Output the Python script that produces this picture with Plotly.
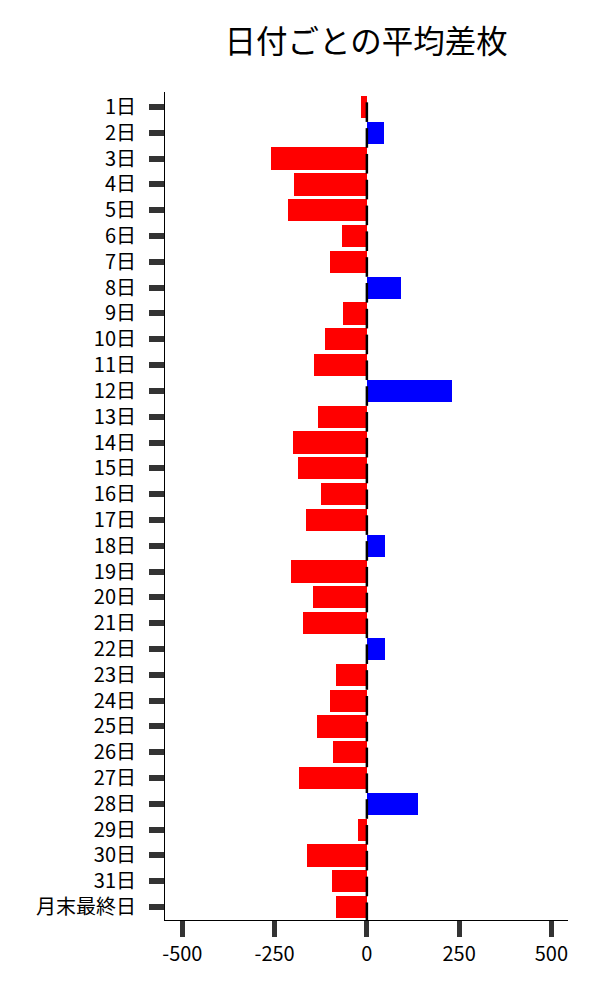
import plotly.graph_objects as go

categories = [f"{i}日" for i in range(1, 32)] + ["月末最終日"]
values = [-16, 46, -260, -198, -214, -68, -100, 92, -65, -114, -144, 230,
          -133, -200, -187, -125, -165, 49, -206, -146, -173, 49, -84, -100,
          -135, -92, -184, 138, -24, -163, -95, -84]

colors = ["#0000ff" if v > 0 else "#ff0000" for v in values]
idx = list(range(len(categories)))

fig = go.Figure()
fig.add_trace(go.Bar(x=values, y=idx, orientation="h", marker_color=colors,
                     marker_line_width=0, width=0.86))
fig.add_trace(go.Scatter(x=[0] * len(idx), y=[i + 0.2 for i in idx], mode="markers",
                         marker=dict(symbol="line-ns", size=14,
                                     line=dict(color="black", width=2.5)),
                         hoverinfo="skip"))

fig.update_layout(
    width=600, height=1000,
    margin=dict(l=157, r=40, t=84, b=88),
    plot_bgcolor="white", paper_bgcolor="white",
    showlegend=False,
    font=dict(family="Noto Sans CJK JP", color="black", size=20),
    title=dict(text="日付ごとの平均差枚", x=0.597, xanchor="center", y=0.966,
               yanchor="middle", font=dict(size=31.5, color="black")),
    bargap=0,
)
fig.update_xaxes(range=[-547, 545], tickvals=[-500, -250, 0, 250, 500],
                 ticktext=["-500", "-250", "0", "250", "500"],
                 showgrid=False, zeroline=False, showline=True, linecolor="black",
                 linewidth=1, ticks="outside", ticklen=16, tickwidth=5,
                 tickcolor="#333333", tickfont=dict(size=20), automargin=False)
fig.update_yaxes(range=[31.5, -0.58], tickvals=idx, ticktext=categories,
                 showgrid=False, zeroline=False, showline=True, linecolor="black",
                 linewidth=1, ticks="outside", ticklen=15, tickwidth=6,
                 tickcolor="#333333", tickfont=dict(size=20), automargin=False,
                 ticklabelstandoff=9)

fig.write_html("out.html")
